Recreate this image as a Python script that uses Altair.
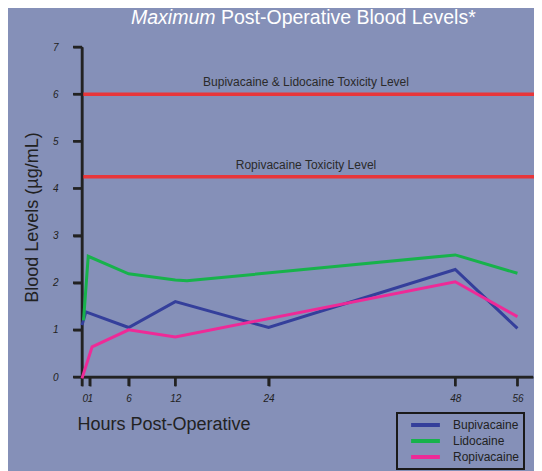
import altair as alt
import pandas as pd

# ---- data ----
bupi_hours = [0, 0.5, 6, 12, 24, 48, 56]
bupi_levels = [1.1, 1.38, 1.05, 1.6, 1.05, 2.28, 1.03]
lido_hours = [0.2, 0.8, 6, 12, 13.5, 48, 56]
lido_levels = [1.2, 2.56, 2.19, 2.06, 2.04, 2.59, 2.2]
ropi_hours = [0, 1.3, 6, 12, 48, 56]
ropi_levels = [-0.03, 0.64, 1.0, 0.85, 2.02, 1.28]

drugs = ["Bupivacaine", "Lidocaine", "Ropivacaine"]
drug_colors = ["#343f9b", "#17b24b", "#ee2a97"]

tox_levels = [6, 4.25]
tox_labels = ["Bupivacaine & Lidocaine Toxicity Level", "Ropivacaine Toxicity Level"]

x_ticks = [0, 1, 6, 12, 24, 48, 56]
y_ticks = [0, 1, 2, 3, 4, 5, 6, 7]
x_domain = [0, 58]
y_domain = [0, 7]
title_parts = ["Maximum", "Post-Operative Blood Levels*"]

FONT = "Liberation Sans"
DARK = "#222222"
AXIS_COLOR = "#222222"
W, H, TICK = 451, 330, 9

rows = []
for name, hs, vs in zip(drugs, [bupi_hours, lido_hours, ropi_hours],
                        [bupi_levels, lido_levels, ropi_levels]):
    for i, (h, v) in enumerate(zip(hs, vs)):
        rows.append({"drug": name, "hour": h, "level": v, "idx": i})
df = pd.DataFrame(rows)
tox_df = pd.DataFrame({"level": tox_levels, "label": tox_labels})
xline_df = pd.DataFrame({"hour": [x_domain[0]], "hour2": [x_domain[1]], "level": [y_domain[0]]})
yline_df = pd.DataFrame({"hour": [x_domain[0]], "level": [y_domain[0]], "level2": [y_domain[1]]})
xt_df = pd.DataFrame({"hour": x_ticks})
yt_df = pd.DataFrame({"level": y_ticks})

x_scale = alt.Scale(domain=x_domain, nice=False, zero=False)
y_scale = alt.Scale(domain=y_domain, nice=False)

axis_style = dict(grid=False, domain=True, ticks=True,
                  domainColor=AXIS_COLOR, domainWidth=2,
                  tickColor=AXIS_COLOR, tickWidth=2, tickSize=TICK,
                  labelFont=FONT, labelFontSize=10, labelFontStyle="italic",
                  labelColor=DARK, titleFont=FONT, titleFontSize=18,
                  titleFontWeight="normal", titleColor=DARK)

y_axis = alt.Axis(values=y_ticks, title="Blood Levels (µg/mL)",
                  titleX=-45, titleY=170, titleAngle=-90, titleAlign="center",
                  titleBaseline="alphabetic", labelPadding=15, **axis_style)
x_axis = alt.Axis(values=x_ticks, title="Hours Post-Operative", labelOverlap=False,
                  titleX=-5, titleY=52, titleAnchor="start", titleAlign="left",
                  titleBaseline="alphabetic", labelPadding=7, **axis_style)

X = lambda f: alt.X(f, scale=x_scale, axis=x_axis)
Y = lambda f: alt.Y(f, scale=y_scale, axis=y_axis)

rules = alt.Chart(tox_df).mark_rule(color="#e8363a", strokeWidth=3.5, clip=False).encode(
    y=Y("level:Q"), x=alt.value(0), x2=alt.value(470))

tox_text = alt.Chart(tox_df).mark_text(
    font=FONT, fontSize=12, color="#2a2a2a", align="center", baseline="alphabetic", dy=-8
).encode(y=Y("level:Q"), x=alt.value(224), text="label:N")

# axis lines and tick marks, drawn the same way as the (visible) red rules
x_line = alt.Chart(xline_df).mark_rule(color=AXIS_COLOR, strokeWidth=2.5, clip=False).encode(
    y=Y("level:Q"), x=X("hour:Q"), x2="hour2:Q")
y_line = alt.Chart(yline_df).mark_rule(color=AXIS_COLOR, strokeWidth=2.5, clip=False).encode(
    x=X("hour:Q"), y=Y("level:Q"), y2="level2:Q")
x_tk = alt.Chart(xt_df).mark_rule(color=AXIS_COLOR, strokeWidth=2.5, clip=False).encode(
    x=X("hour:Q"), y=alt.value(H), y2=alt.value(H + TICK))
y_tk = alt.Chart(yt_df).mark_rule(color=AXIS_COLOR, strokeWidth=2.5, clip=False).encode(
    y=Y("level:Q"), x=alt.value(-TICK), x2=alt.value(0))

lines = alt.Chart(df).mark_line(strokeWidth=3, clip=False).encode(
    x=X("hour:Q"),
    y=Y("level:Q"),
    color=alt.Color("drug:N", scale=alt.Scale(domain=drugs, range=drug_colors),
                    legend=alt.Legend(orient="none", legendX=315, legendY=366, title=None,
                                      padding=4, strokeColor="#1a1a1a",
                                      symbolType="M-2.4,0L2.4,0", symbolSize=144,
                                      symbolStrokeWidth=4, symbolOffset=16.5,
                                      labelOffset=19.5, rowPadding=0,
                                      labelFont=FONT, labelFontSize=12, labelColor=DARK,
                                      labelExpr="datum.label + '   '")),
    order="idx:Q",
)

title_df1 = pd.DataFrame({"t": [title_parts[0]]})
title_df2 = pd.DataFrame({"t": [title_parts[1]]})
t1 = alt.Chart(title_df1).mark_text(
    font=FONT, fontSize=19.5, fontStyle="italic", color="white", align="left", baseline="alphabetic"
).encode(x=alt.value(49), y=alt.value(-23.5), text="t:N")
t2 = alt.Chart(title_df2).mark_text(
    font=FONT, fontSize=19.5, color="white", align="left", baseline="alphabetic"
).encode(x=alt.value(139), y=alt.value(-23.5), text="t:N")

chart = alt.layer(rules, tox_text, x_line, y_line, x_tk, y_tk, lines, t1, t2).properties(
    width=W, height=H,
    autosize=alt.AutoSizeParams(type="none"),
    padding={"left": 74, "top": 39, "right": 1, "bottom": 94},
    background="#8590b8",
).configure(font=FONT).configure_view(strokeWidth=0).configure_legend(strokeWidth=2)

chart.save("out.html", embed_options={"renderer": "svg", "actions": False})
